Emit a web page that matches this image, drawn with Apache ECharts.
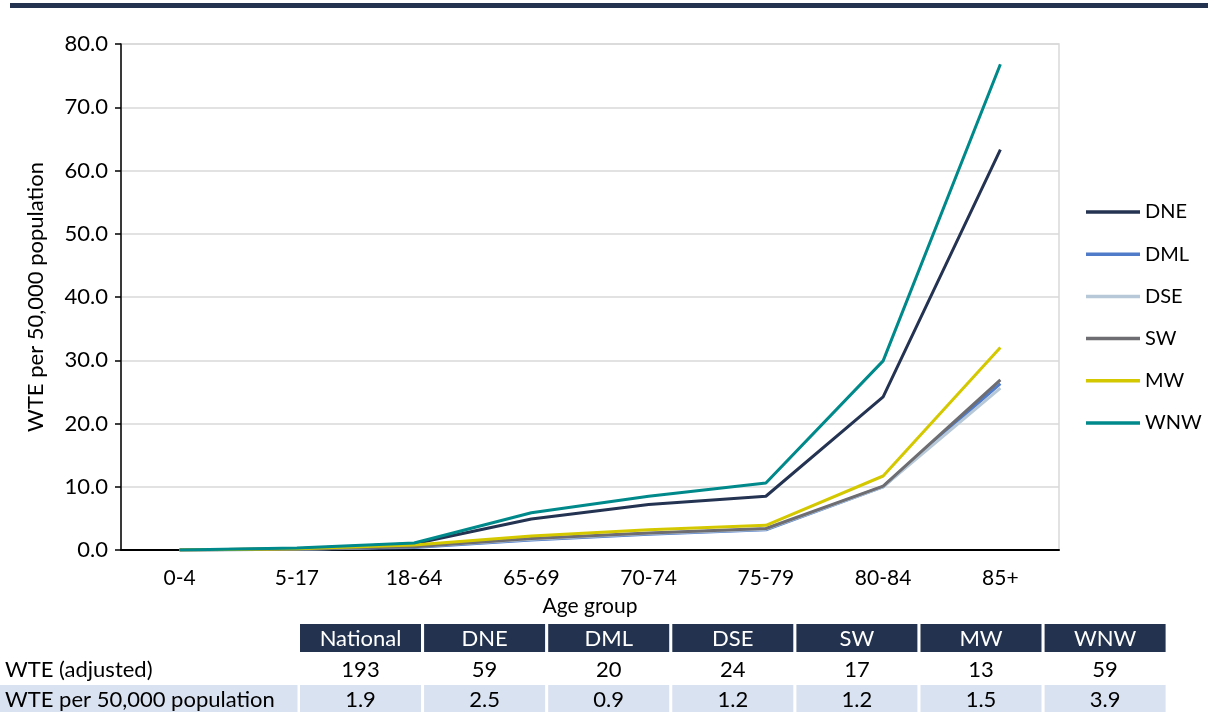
<!DOCTYPE html>
<html>
<head>
<meta charset="utf-8">
<script src="https://cdn.jsdelivr.net/npm/echarts@6/dist/echarts.min.js"></script>
<style>
  html, body { margin: 0; padding: 0; background: #fff; }
  #chart { width: 1208px; height: 715px; }
</style>
</head>
<body>
<div id="chart"></div>
<script>
// Age groups along the x axis
const ageGroups = ['0-4', '5-17', '18-64', '65-69', '70-74', '75-79', '80-84', '85+'];

// WTE per 50,000 population by region and age group
const seriesNames = ['DNE', 'DML', 'DSE', 'SW', 'MW', 'WNW'];
const dne = [0, 0.2, 1.0, 4.9, 7.2, 8.5, 24.2, 63.3];
const dml = [0, 0.1, 0.4, 1.6, 2.5, 3.2, 10.0, 26.3];
const dse = [0, 0.1, 0.5, 1.7, 2.6, 3.3, 10.0, 25.6];
const sw  = [0, 0.1, 0.5, 1.8, 2.7, 3.4, 10.1, 26.9];
const mw  = [0, 0.2, 0.8, 2.2, 3.2, 3.9, 11.7, 32.0];
const wnw = [0, 0.3, 1.1, 5.9, 8.5, 10.6, 29.9, 76.8];

// Summary table under the chart
const tableCols = ['National', 'DNE', 'DML', 'DSE', 'SW', 'MW', 'WNW'];
const rowLabels = ['WTE (adjusted)', 'WTE per 50,000 population'];
const wteAdjusted = ['193', '59', '20', '24', '17', '13', '59'];
const wtePer50k = ['1.9', '2.5', '0.9', '1.2', '1.2', '1.5', '3.9'];

const FONT = 'Lato';
const NAVY = '#22324F';
const colors = ['#243352', '#4F7BC8', '#B7C9D8', '#6D6D72', '#D4C800', '#00898A'];
const seriesData = [dne, dml, dse, sw, mw, wnw];

// Build table graphics
const graphics = [];
// top rule
graphics.push({ type: 'rect', shape: { x: 10, y: 3, width: 1198, height: 5 }, style: { fill: NAVY } });

const colX0 = 300, colW = 121, colPitch = 124.1;
const headerY = 624, headerH = 28;
const row1Y = 655, row2Y = 685, rowH = 27;
const TFONT = '22px ' + FONT;
// shaded row background for label cell
graphics.push({ type: 'rect', shape: { x: 0, y: row2Y, width: 297.5, height: rowH }, style: { fill: '#D9E2F1' } });
rowLabels.forEach((lab, i) => {
  graphics.push({ type: 'text', x: 5, y: (i === 0 ? row1Y : row2Y) + rowH / 2 + 1,
    style: { text: lab, font: TFONT, fill: '#000', align: 'left', verticalAlign: 'middle' } });
});
tableCols.forEach((c, i) => {
  const x = colX0 + i * colPitch;
  graphics.push({ type: 'rect', shape: { x: x, y: headerY, width: colW, height: headerH }, style: { fill: NAVY } });
  graphics.push({ type: 'text', x: x + colW / 2, y: headerY + headerH / 2 + 1,
    style: { text: c, font: TFONT, fill: '#fff', align: 'center', verticalAlign: 'middle' } });
  graphics.push({ type: 'text', x: x + colW / 2, y: row1Y + rowH / 2 + 1,
    style: { text: wteAdjusted[i], font: TFONT, fill: '#000', align: 'center', verticalAlign: 'middle' } });
  graphics.push({ type: 'rect', shape: { x: x, y: row2Y, width: colW, height: rowH }, style: { fill: '#D9E2F1' } });
  graphics.push({ type: 'text', x: x + colW / 2, y: row2Y + rowH / 2 + 1,
    style: { text: wtePer50k[i], font: TFONT, fill: '#000', align: 'center', verticalAlign: 'middle' } });
});

const chart = echarts.init(document.getElementById('chart'), null, { renderer: 'canvas' });
chart.setOption({
  animation: false,
  textStyle: { fontFamily: FONT },
  grid: { left: 121, right: 149, top: 44, bottom: 165, show: true, borderColor: '#D9D9D9', borderWidth: 1.5 },
  xAxis: {
    type: 'category',
    data: ageGroups,
    boundaryGap: true,
    name: 'Age group',
    nameLocation: 'middle',
    nameGap: 46,
    nameTextStyle: { fontSize: 21, color: '#000', fontFamily: FONT },
    axisLine: { lineStyle: { color: '#000', width: 2 } },
    axisTick: { show: false },
    axisLabel: { fontSize: 21, color: '#000', margin: 18, fontFamily: FONT }
  },
  yAxis: {
    type: 'value',
    min: 0, max: 80, interval: 10,
    name: 'WTE per 50,000 population',
    nameLocation: 'middle',
    nameGap: 74,
    nameTextStyle: { fontSize: 22, color: '#000', fontFamily: FONT },
    axisLine: { show: true, lineStyle: { color: '#000', width: 1.5 } },
    axisTick: { show: true, length: 6, lineStyle: { color: '#000', width: 1.5 } },
    axisLabel: { fontSize: 22, color: '#000', margin: 13, fontFamily: FONT,
      formatter: v => v.toFixed(1) },
    splitLine: { lineStyle: { color: '#D9D9D9', width: 1.5 } }
  },
  legend: {
    orient: 'vertical',
    left: 1081, top: 197,
    itemWidth: 54, itemHeight: 3.5,
    itemGap: 22.2,
    icon: 'rect',
    data: seriesNames,
    textStyle: { fontSize: 20, color: '#000', fontFamily: FONT, padding: [0, 0, 0, 0] }
  },
  series: seriesNames.map((n, i) => ({
    name: n,
    type: 'line',
    data: seriesData[i],
    symbol: 'none',
    color: colors[i],
    lineStyle: { width: 3, color: colors[i] },
    z: 2 + i
  })),
  graphic: graphics
});
</script>
</body>
</html>
